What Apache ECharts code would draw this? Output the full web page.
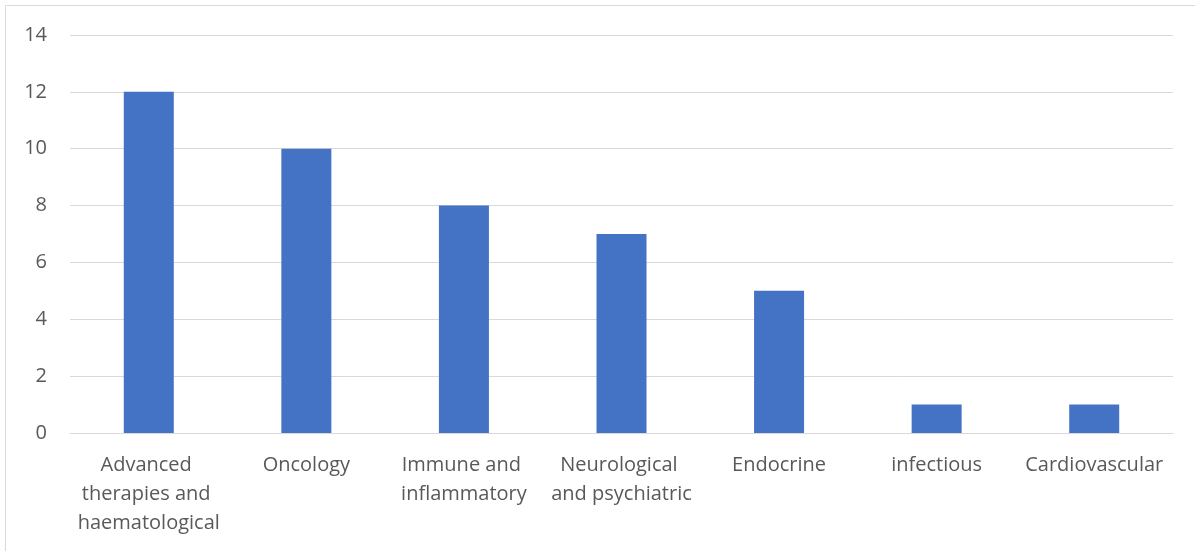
<!DOCTYPE html>
<html>
<head>
<meta charset="utf-8">
<script src="https://cdn.jsdelivr.net/npm/echarts@6/dist/echarts.min.js"></script>
<style>
  html, body { margin: 0; padding: 0; background: #fff; }
  #chart { width: 1195px; height: 551px; }
</style>
</head>
<body>
<div id="chart"></div>
<script>
// Number of items per therapeutic area
const categories = [
  'Advanced therapies and haematological',
  'Oncology',
  'Immune and inflammatory',
  'Neurological and psychiatric',
  'Endocrine',
  'infectious',
  'Cardiovascular'
];
const counts = [12, 10, 8, 7, 5, 1, 1];
const yTicks = { min: 0, max: 14, interval: 2 };

const font = '"Open Sans", "Liberation Sans", sans-serif';
const chart = echarts.init(document.getElementById('chart'));

chart.setOption({
  animation: false,
  graphic: [{
    type: 'rect',
    shape: { x: 5.5, y: 5.5, width: 1300, height: 700 },
    style: { fill: 'none', stroke: '#d9d9d9', lineWidth: 1 },
    silent: true
  }],
  grid: { left: 70, right: 22, top: 35, bottom: 118 },
  xAxis: {
    type: 'category',
    data: categories,
    axisTick: { show: false },
    axisLine: { lineStyle: { color: '#d9d9d9', width: 1 } },
    axisLabel: {
      interval: 0,
      color: '#595959',
      fontFamily: font,
      fontSize: 20,
      lineHeight: 29,
      margin: 18,
      width: 154,
      overflow: 'break'
    }
  },
  yAxis: {
    type: 'value',
    min: yTicks.min,
    max: yTicks.max,
    interval: yTicks.interval,
    axisLine: { show: false },
    axisTick: { show: false },
    splitLine: { lineStyle: { color: '#d9d9d9', width: 1 } },
    axisLabel: {
      color: '#595959',
      fontFamily: font,
      fontSize: 20,
      margin: 23
    }
  },
  series: [{
    type: 'bar',
    data: counts,
    barWidth: 50,
    itemStyle: { color: '#4472c4' }
  }]
});
</script>
</body>
</html>
